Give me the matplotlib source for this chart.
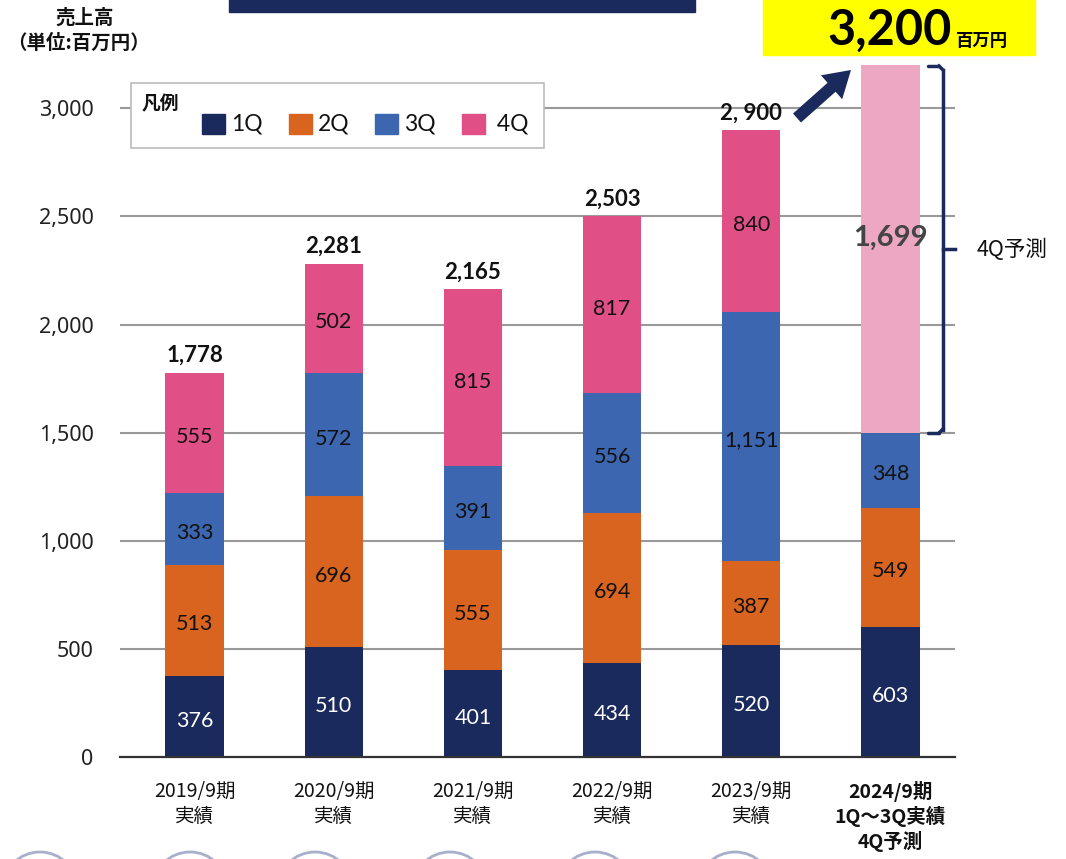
import matplotlib
matplotlib.use("Agg")
import matplotlib.pyplot as plt
from matplotlib.patches import Rectangle, FancyArrow, Circle
import numpy as np

plt.rcParams['font.family'] = ['Noto Sans CJK JP', 'DejaVu Sans']

# ---- data ----
categories = ["2019/9期\n実績", "2020/9期\n実績", "2021/9期\n実績",
              "2022/9期\n実績", "2023/9期\n実績", "2024/9期\n1Q～3Q実績\n4Q予測"]
q1 = [376, 510, 401, 434, 520, 603]
q2 = [513, 696, 555, 694, 387, 549]
q3 = [333, 572, 391, 556, 1151, 348]
q4 = [555, 502, 815, 817, 840, 1699]
totals = ["1,778", "2,281", "2,165", "2,503", "2, 900"]
forecast_total = "3,200"
series_names = ["1Q", "2Q", "3Q", "4Q"]
yticks = [0, 500, 1000, 1500, 2000, 2500, 3000]

C_NAVY = "#1B2A5C"
C_ORANGE = "#D86420"
C_BLUE = "#3D66B0"
C_PINK = "#E05086"
C_LPINK = "#EDA7C2"
colors = [C_NAVY, C_ORANGE, C_BLUE, C_PINK]
NUMFONT = ['Lato', 'DejaVu Sans']

W, H = 1066, 859
fig = plt.figure(figsize=(W / 100, H / 100), dpi=100)
ax = fig.add_axes([120 / W, (H - 757) / H, (955 - 120) / W, (757 - 65) / H])
ax.set_ylim(0, 3200)
ax.set_xlim(-0.536, 5.464)
for s in ["top", "right", "left"]:
    ax.spines[s].set_visible(False)
ax.spines["bottom"].set_color("#333333")
ax.spines["bottom"].set_linewidth(1.6)
ax.set_yticks(yticks)
ax.set_yticklabels([f"{v:,}" for v in yticks], fontsize=15.5, family=['Noto Sans', 'DejaVu Sans'], color="#222222")
ax.tick_params(axis="y", length=0, pad=19)
ax.tick_params(axis="x", length=0, pad=17)
for v in yticks[1:]:
    ax.axhline(v, color="#999999", lw=1.5, zorder=0)

x = np.arange(len(categories))
bw = 0.42
bottom = np.zeros(len(categories))
series = [q1, q2, q3, q4]
for i, (vals, col) in enumerate(zip(series, colors)):
    cols = [col] * len(categories)
    if i == 3:
        cols[-1] = C_LPINK
    ax.bar(x, vals, bw, bottom=bottom, color=cols, zorder=2, linewidth=0)
    for j, v in enumerate(vals):
        yc = bottom[j] + v / 2
        if i == 3 and j == len(categories) - 1:
            ax.text(x[j], yc + 50, f"{v:,}", ha="center", va="center", fontsize=21,
                    fontweight="bold", color="#444444", family=NUMFONT, zorder=3)
        else:
            ax.annotate(f"{v:,}", (x[j], yc), xytext=(0, -3), textcoords="offset points",
                        ha="center", va="center", fontsize=15.5,
                        color="white" if i == 0 else "#111111", family=NUMFONT, zorder=3)
    bottom += np.array(vals)

for j, t in enumerate(totals):
    ax.annotate(t, (x[j], bottom[j]), xytext=(0, 5), textcoords="offset points",
                ha="center", va="bottom", fontsize=16, fontweight="bold",
                color="#111111", family=NUMFONT)

ax.set_xticks(x)
ax.set_xticklabels(categories, fontsize=14, linespacing=1.25, color="#111111")
ax.get_xticklabels()[-1].set_fontweight("bold")

# ---- overlay in pixel coordinates ----
ov = fig.add_axes([0, 0, 1, 1], zorder=5)
ov.set_xlim(0, W)
ov.set_ylim(H, 0)
ov.axis("off")
ov.patch.set_alpha(0)

# top navy strip
ov.add_patch(Rectangle((229, -2), 466, 14, color=C_NAVY))
# yellow box
ov.add_patch(Rectangle((763, -2), 272, 57, color="#FFFF00"))
ov.text(952, 30, forecast_total, ha="right", va="center", fontsize=35, fontweight="bold",
        family=NUMFONT, color="black")
ov.text(956, 41, "百万円", ha="left", va="center", fontsize=12.5, fontweight="bold", color="black")

# y-axis title
ov.text(85, 18, "売上高", ha="center", va="center", fontsize=14, fontweight="bold", color="#111111")
ov.text(78, 43, "（単位:百万円）", ha="center", va="center", fontsize=14, fontweight="bold", color="#111111")

# legend box
ov.add_patch(Rectangle((131, 83), 413, 65, facecolor="white", edgecolor="#BBBBBB", lw=1.2))
ov.text(142, 104, "凡例", ha="left", va="center", fontsize=13.5, fontweight="bold", color="#111111")
leg_x = [202, 289, 375, 462]
for lx, name, col in zip(leg_x, series_names, colors):
    ov.add_patch(Rectangle((lx, 114), 23, 20, color=col))
    ov.text(lx + 29, 124, name if name != "4Q" else " " + name, ha="left", va="center",
            fontsize=16.5, family=NUMFONT, color="#111111")

# arrow
ov.add_patch(FancyArrow(797, 118, 54, -48, width=12, head_width=32, head_length=26,
                        length_includes_head=True, color=C_NAVY, lw=0))

# bracket
bx = 943
ov.plot([928, bx - 4], [66, 66], color=C_NAVY, lw=2.5, solid_capstyle="round")
ov.plot([bx, bx], [70, 430], color=C_NAVY, lw=2.5)
ov.plot([bx - 4, bx], [66, 70], color=C_NAVY, lw=2.5)
ov.plot([928, bx - 4], [433, 433], color=C_NAVY, lw=2.5, solid_capstyle="round")
ov.plot([bx - 4, bx], [433, 429], color=C_NAVY, lw=2.5)
ov.plot([bx, 955], [249, 249], color=C_NAVY, lw=2.5)
ov.text(977, 250, "4Q予測", ha="left", va="center", fontsize=15.5, color="#111111")

# decorative circles at bottom
for cx in [40, 190, 315, 450, 595, 735]:
    ov.add_patch(Circle((cx, 890), 38, fill=False, edgecolor="#A8AFCB", lw=2))

fig.savefig("out.png", dpi=100)
